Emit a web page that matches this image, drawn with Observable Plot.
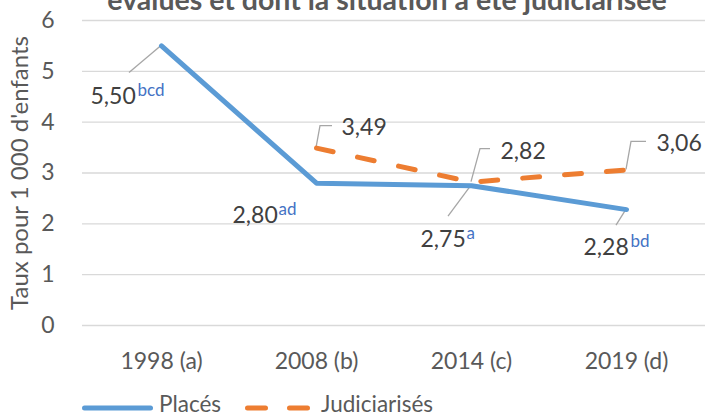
<!DOCTYPE html>
<html>
<head>
<meta charset="utf-8">
<script src="https://cdn.jsdelivr.net/npm/d3@7"></script>
<script src="https://cdn.jsdelivr.net/npm/@observablehq/plot@0.6"></script>
<style>
  html, body { margin: 0; padding: 0; background: #fff; }
  #wrap { position: relative; width: 705px; height: 417px; overflow: hidden; font-family: Lato, sans-serif; }
  .leg { position: absolute; top: 394px; height: 20px; line-height: 20px; display: flex; align-items: center; font-size: 22.5px; color: #595959; }
</style>
</head>
<body>
<div id="wrap"></div>
<script>
// ---- data ----
const categories = ["1998 (a)", "2008 (b)", "2014 (c)", "2019 (d)"];
const places = [5.50, 2.80, 2.75, 2.28];
const judiciarises = [null, 3.49, 2.82, 3.06];
const placesNotes = ["bcd", "ad", "a", "bd"];
const judiciarisesNotes = ["", "", "", ""];
const yTicks = [0, 1, 2, 3, 4, 5, 6];
const seriesNames = ["Placés", "Judiciarisés"];
const titleText = "évalués et dont la situation a été judiciarisée";
const yLabel = "Taux pour 1 000 d'enfants";

// ---- styling / layout (not data) ----
const colors = {"Placés": "#5B9BD5", "Judiciarisés": "#ED7D31"};
const dash = "17,25";
// per-label pixel offsets
const layout = {
  "Placés": [
    {n: [-71, 58], s: [-24, 50], lead: [[-32, 27]]},
    {n: [-84, 40], s: [-38, 32], lead: null},
    {n: [-51, 61], s: [-5, 53], lead: [[-23, 31]]},
    {n: [-43, 45], s: [4, 37], lead: [[-10, 16]]}
  ],
  "Judiciarisés": [
    null,
    {n: [25, -13], s: [0, 0], lead: [[4, -22], [16, -22]]},
    {n: [29, -23], s: [0, 0], lead: [[9, -33], [19, -33]]},
    {n: [30, -19], s: [0, 0], lead: [[5, -28], [20, -28]]}
  ]
};

const fmt = v => v.toFixed(2).replace(".", ",");

const rows = [];
categories.forEach((c, i) => {
  rows.push({cat: c, serie: "Placés", value: places[i], note: placesNotes[i], i});
  if (judiciarises[i] != null) rows.push({cat: c, serie: "Judiciarisés", value: judiciarises[i], note: judiciarisesNotes[i], i});
});

const labelMarks = [];
rows.forEach(r => {
  const L = layout[r.serie][r.i];
  labelMarks.push(Plot.text([r], {
    x: "cat", y: "value", text: d => fmt(d.value),
    dx: L.n[0], dy: L.n[1], textAnchor: "start", lineAnchor: "bottom",
    fill: "#404040", fontSize: 23
  }));
  if (r.note) labelMarks.push(Plot.text([r], {
    x: "cat", y: "value", text: "note",
    dx: L.s[0], dy: L.s[1], textAnchor: "start", lineAnchor: "bottom",
    fill: "#4472C4", fontSize: 17
  }));
});

function leaders(index, scales) {
  const g = d3.create("svg:g").attr("fill", "none").attr("stroke", "#a6a6a6").attr("stroke-width", 1.3);
  rows.forEach(r => {
    const L = layout[r.serie][r.i];
    if (!L.lead) return;
    const px = scales.x(r.cat), py = scales.y(r.value);
    const pts = [[px, py], ...L.lead.map(([dx, dy]) => [px + dx, py + dy])];
    g.append("path").attr("d", d3.line()(pts));
  });
  return g.node();
}

const plot = Plot.plot({
  width: 705,
  height: 390,
  marginLeft: 82,
  marginRight: 0,
  marginTop: 20,
  marginBottom: 65,
  style: {fontFamily: "Lato, sans-serif", fontSize: "23px", color: "#595959", overflow: "visible"},
  x: {type: "point", domain: categories, padding: 0.5, label: null},
  y: {domain: [0, 6], ticks: yTicks, label: null},
  marks: [
    Plot.gridY(yTicks, {stroke: "#d9d9d9", strokeOpacity: 1, strokeWidth: 1.3}),
    Plot.axisY(yTicks, {tickSize: 0, tickPadding: 28, fontSize: 23, label: null, tickFormat: d => String(d)}),
    Plot.axisX({tickSize: 0, tickPadding: 27, fontSize: 23, label: null}),
    Plot.text([yLabel], {frameAnchor: "left", rotate: -90, dx: -55, dy: 0, lineAnchor: "bottom", textAnchor: "middle", fill: "#595959", fontSize: 24}),
    Plot.text([titleText], {frameAnchor: "top", dx: -7, dy: -11, lineAnchor: "bottom", fill: "#595959", fontSize: 28.5, fontWeight: "bold"}),
    leaders,
    Plot.line(rows.filter(r => r.serie === "Placés"), {x: "cat", y: "value", stroke: colors["Placés"], strokeWidth: 5, strokeLinecap: "round", strokeLinejoin: "round"}),
    Plot.line(rows.filter(r => r.serie === "Judiciarisés"), {x: "cat", y: "value", stroke: colors["Judiciarisés"], strokeWidth: 5, strokeLinecap: "round", strokeLinejoin: "round", strokeDasharray: dash}),
    ...labelMarks
  ]
});

const wrap = document.getElementById("wrap");
wrap.appendChild(plot);

// legend
function legItem(left, swatchW, name, dashed, textLeft) {
  const sw = document.createElement("div");
  sw.className = "leg";
  sw.style.left = left + "px";
  sw.style.top = "398px";
  sw.innerHTML = `<svg width="${swatchW}" height="20" style="display:block"><line x1="2.5" x2="${swatchW - 2.5}" y1="10" y2="10" stroke="${colors[name]}" stroke-width="5" stroke-linecap="round" ${dashed ? `stroke-dasharray="18,24"` : ""}/></svg>`;
  wrap.appendChild(sw);
  const tx = document.createElement("div");
  tx.className = "leg";
  tx.style.left = textLeft + "px";
  tx.textContent = name;
  wrap.appendChild(tx);
}
legItem(82, 71, seriesNames[0], false, 159);
legItem(245, 65, seriesNames[1], true, 321);
</script>
</body>
</html>
